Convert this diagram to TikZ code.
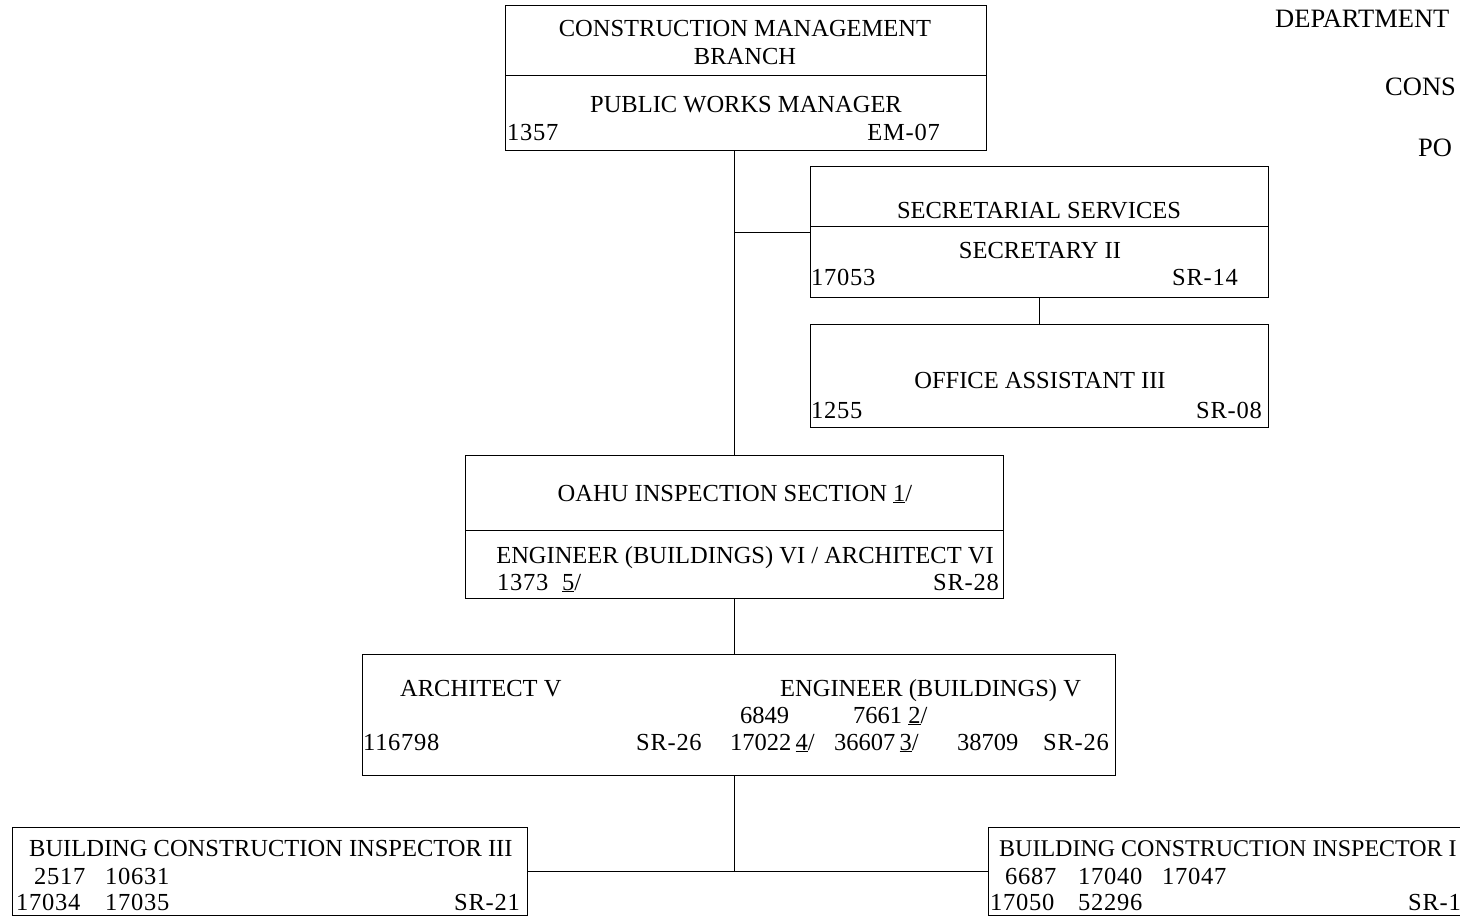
\documentclass[tikz,border=0pt]{standalone}
\usepackage{fontspec}
\setmainfont{Liberation Serif}
\newfontfamily\codefont[LetterSpace=3]{Liberation Serif}

\tikzset{
    post/.style={draw, line width=1pt, rectangle, inner sep=0pt, anchor=north west},
    txt/.style={inner sep=0pt, anchor=base, font=\fontsize{24.5}{29}\selectfont},
    code/.style={inner sep=0pt, anchor=base west, font={\fontsize{24.5}{29}\codefont}},
    ttl/.style={inner sep=0pt, anchor=base west, font=\fontsize{26.5}{31}\selectfont},
    link/.style={line width=1pt},
}

\begin{document}
\begin{tikzpicture}[x=1pt, y=-1pt]
    \useasboundingbox (0,0) rectangle (1460,924);
    \clip (0,0) rectangle (1460,924);
    % title (cut at the edge)
    \node[ttl] (tdept) at (1275,27) {DEPARTMENT};
    \node[ttl] (tcons) at (1385,95) {CONS};
    \node[ttl] (tpos) at (1418,156) {PO};
    % boxes
    \node[post, minimum width=481pt, minimum height=145pt] (cmb) at (505,5) {};
    \node[post, minimum width=458pt, minimum height=131pt] (sec) at (810,166) {};
    \node[post, minimum width=458pt, minimum height=103pt] (oa) at (810,324) {};
    \node[post, minimum width=538pt, minimum height=143pt] (oahu) at (465,455) {};
    \node[post, minimum width=753pt, minimum height=121pt] (eng) at (362,654) {};
    \node[post, minimum width=515pt, minimum height=88pt] (bci3) at (12,827) {};
    \node[post, minimum width=520pt, minimum height=88pt] (bci2) at (988,827) {};
    \draw[link] (505,75) -- (986,75);
    \draw[link] (810,226) -- (1268,226);
    \draw[link] (465,530) -- (1003,530);
    % connectors
    \draw[link] (oahu.north) -- (oahu.north |- cmb.south);
    \draw[link] (sec.west) -- (sec.west -| oahu.north);
    \draw[link] (sec.south) -- (oa.north);
    \draw[link] (oahu.south) -- (oahu.south |- eng.north);
    \draw[link] (oahu.south |- eng.south) -- (oahu.south |- bci3.east);
    \draw[link] (bci3.east) -- (bci2.west);
    % construction management branch
    \node[txt] (cmbt1) at (745,36) {CONSTRUCTION MANAGEMENT};
    \node[txt] (cmbt2) at (745,64) {BRANCH};
    \node[txt] (pwm) at (746,112) {PUBLIC WORKS MANAGER};
    \node[code] (pwmno) at (507,140) {1357};
    \node[code, anchor=base east] (pwmsr) at (940,140) {EM-07};
    % secretarial services
    \node[txt] (sect) at (1039,218) {SECRETARIAL SERVICES};
    \node[txt] (sec2) at (1040,258) {SECRETARY II};
    \node[code] (sec2no) at (811,285) {17053};
    \node[code, anchor=base east] (sec2sr) at (1238,285) {SR-14};
    \node[txt] (oat) at (1040,388) {OFFICE ASSISTANT III};
    \node[code] (oano) at (811,418) {1255};
    \node[code, anchor=base east] (oasr) at (1262,418) {SR-08};
    % oahu inspection section
    \node[txt] (oahut) at (735,501) {OAHU INSPECTION SECTION \underline{1}/};
    \node[txt] (eng6) at (745,563) {ENGINEER (BUILDINGS) VI / ARCHITECT VI};
    \node[code] (eng6no) at (497,590) {1373 \ \underline{5}/};
    \node[code, anchor=base east] (eng6sr) at (999,590) {SR-28};
    % architect v / engineer v
    \node[txt, anchor=base west] (arch5) at (400,696) {ARCHITECT V};
    \node[txt, anchor=base west] (eng5) at (780,696) {ENGINEER (BUILDINGS) V};
    \node[txt, anchor=base west] (e5a) at (740,723) {6849};
    \node[txt, anchor=base west] (e5b) at (853,723) {7661 \underline{2}/};
    \node[code] (a5no) at (363,750) {116798};
    \node[code] (a5sr) at (636,750) {SR-26};
    \node[txt, anchor=base west] (e5c) at (730,750) {17022\,\underline{4}/};
    \node[txt, anchor=base west] (e5d) at (834,750) {36607\,\underline{3}/};
    \node[txt, anchor=base west] (e5e) at (957,750) {38709};
    \node[code, anchor=base east] (e5sr) at (1109,750) {SR-26};
    % building construction inspectors
    \node[txt, anchor=base west] (bci3t) at (29,856) {BUILDING CONSTRUCTION INSPECTOR III};
    \node[code] (b3a) at (34,884) {2517};
    \node[code] (b3b) at (105,884) {10631};
    \node[code] (b3c) at (16,910) {17034};
    \node[code] (b3d) at (105,910) {17035};
    \node[code, anchor=base east] (b3sr) at (520,910) {SR-21};
    \node[txt, anchor=base west, font=\fontsize{24}{29}\selectfont] (bci2t) at (999,856) {BUILDING CONSTRUCTION INSPECTOR I};
    \node[code] (b2a) at (1005,884) {6687};
    \node[code] (b2b) at (1078,884) {17040};
    \node[code] (b2c) at (1162,884) {17047};
    \node[code] (b2d) at (990,910) {17050};
    \node[code] (b2e) at (1078,910) {52296};
    \node[code] (b2sr) at (1408,910) {SR-1};
\end{tikzpicture}
\end{document}
